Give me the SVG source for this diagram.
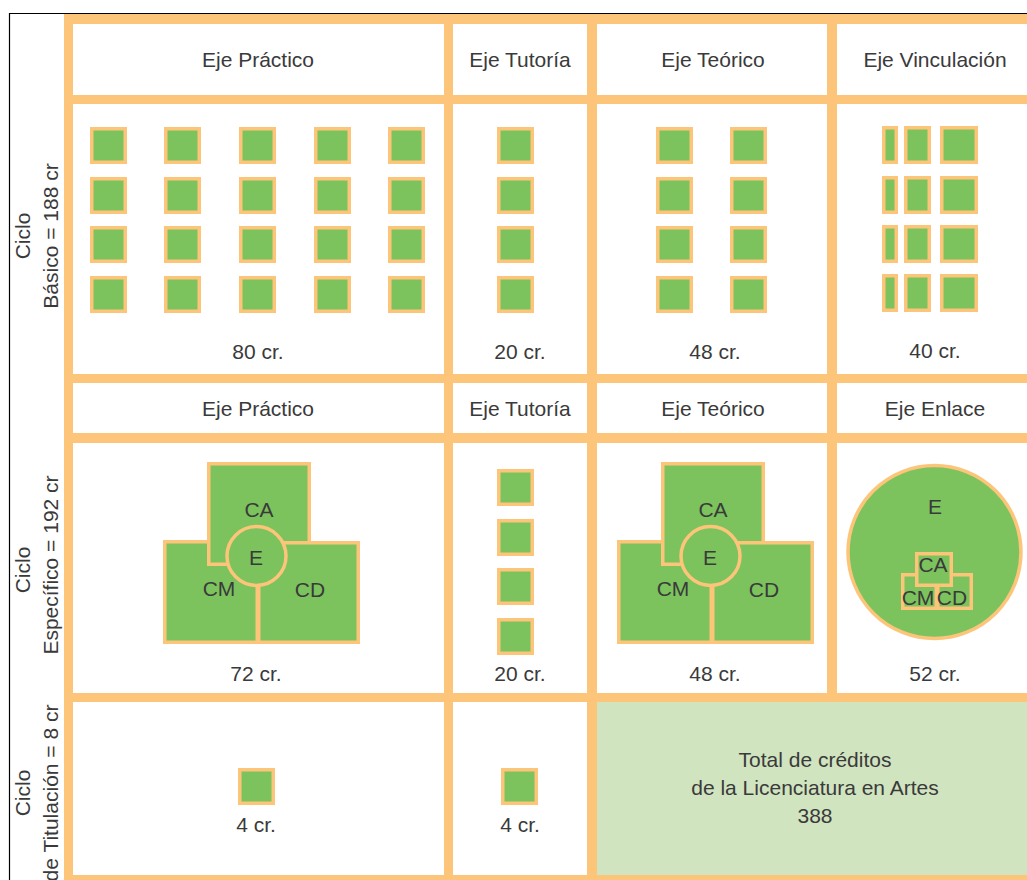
<svg xmlns="http://www.w3.org/2000/svg" width="1027" height="880" viewBox="0 0 1027 880">
<style>
.t{font-family:"Liberation Sans",Arial,sans-serif;font-size:21px;fill:#3a3a3a;text-anchor:middle}
.sq{fill:#7cc35d;stroke:#fdc57a;stroke-width:3.5}
.cell{fill:#ffffff}
</style>
<defs>
<rect id="s" class="sq" x="1.75" y="1.75" width="33.5" height="33.5"/>
</defs>
<rect x="0" y="0" width="1027" height="880" fill="#ffffff"/>
<path d="M9.5 880 V13.5 H1027" fill="none" stroke="#000" stroke-width="1.2"/>
<g id="grid">
<rect x="64" y="14" width="963" height="866" fill="#fdc57a"/>
<rect class="cell" x="73" y="24" width="371" height="71"/>
<rect class="cell" x="453" y="24" width="134" height="71"/>
<rect class="cell" x="597" y="24" width="230" height="71"/>
<rect class="cell" x="837" y="24" width="190" height="71"/>
<rect class="cell" x="73" y="104" width="371" height="270"/>
<rect class="cell" x="453" y="104" width="134" height="270"/>
<rect class="cell" x="597" y="104" width="230" height="270"/>
<rect class="cell" x="837" y="104" width="190" height="270"/>
<rect class="cell" x="73" y="383" width="371" height="50"/>
<rect class="cell" x="453" y="383" width="134" height="50"/>
<rect class="cell" x="597" y="383" width="230" height="50"/>
<rect class="cell" x="837" y="383" width="190" height="50"/>
<rect class="cell" x="73" y="443" width="371" height="250"/>
<rect class="cell" x="453" y="443" width="134" height="250"/>
<rect class="cell" x="597" y="443" width="230" height="250"/>
<rect class="cell" x="837" y="443" width="190" height="250"/>
<rect class="cell" x="73" y="702" width="371" height="173"/>
<rect class="cell" x="453" y="702" width="134" height="173"/>
</g>
<g id="cycle-labels">
<text class="t" transform="translate(30,236) rotate(-90)">Ciclo</text>
<text class="t" transform="translate(58,236) rotate(-90)">Básico = 188 cr</text>
<text class="t" transform="translate(30,570) rotate(-90)">Ciclo</text>
<text class="t" transform="translate(58,565) rotate(-90)">Específico = 192 cr</text>
<text class="t" transform="translate(30,793) rotate(-90)">Ciclo</text>
<text class="t" transform="translate(58,793) rotate(-90)">de Titulación = 8 cr</text>
</g>
<g id="headers-basico">
<text class="t" x="258" y="67">Eje Práctico</text>
<text class="t" x="520" y="67">Eje Tutoría</text>
<text class="t" x="713" y="67">Eje Teórico</text>
<text class="t" x="935" y="67">Eje Vinculación</text>
</g>
<g id="basico-practico">
<use href="#s" x="90" y="127"/><use href="#s" x="164" y="127"/><use href="#s" x="239" y="127"/><use href="#s" x="314" y="127"/><use href="#s" x="388" y="127"/>
<use href="#s" x="90" y="177"/><use href="#s" x="164" y="177"/><use href="#s" x="239" y="177"/><use href="#s" x="314" y="177"/><use href="#s" x="388" y="177"/>
<use href="#s" x="90" y="226"/><use href="#s" x="164" y="226"/><use href="#s" x="239" y="226"/><use href="#s" x="314" y="226"/><use href="#s" x="388" y="226"/>
<use href="#s" x="90" y="276"/><use href="#s" x="164" y="276"/><use href="#s" x="239" y="276"/><use href="#s" x="314" y="276"/><use href="#s" x="388" y="276"/>
<text class="t" x="258" y="359">80 cr.</text>
</g>
<g id="basico-tutoria">
<use href="#s" x="497" y="127"/><use href="#s" x="497" y="177"/><use href="#s" x="497" y="226"/><use href="#s" x="497" y="276"/>
<text class="t" x="520" y="359">20 cr.</text>
</g>
<g id="basico-teorico">
<use href="#s" x="656" y="127"/><use href="#s" x="730" y="127"/>
<use href="#s" x="656" y="177"/><use href="#s" x="730" y="177"/>
<use href="#s" x="656" y="226"/><use href="#s" x="730" y="226"/>
<use href="#s" x="656" y="276"/><use href="#s" x="730" y="276"/>
<text class="t" x="715" y="359">48 cr.</text>
</g>
<g id="basico-vinculacion">
<rect class="sq" x="883.75" y="127.75" width="12.5" height="34.5"/><rect class="sq" x="905.75" y="127.75" width="23.5" height="34.5"/><rect class="sq" x="941.75" y="127.75" width="34.5" height="34.5"/>
<rect class="sq" x="883.75" y="177.75" width="12.5" height="34.5"/><rect class="sq" x="905.75" y="177.75" width="23.5" height="34.5"/><rect class="sq" x="941.75" y="177.75" width="34.5" height="34.5"/>
<rect class="sq" x="883.75" y="226.75" width="12.5" height="34.5"/><rect class="sq" x="905.75" y="226.75" width="23.5" height="34.5"/><rect class="sq" x="941.75" y="226.75" width="34.5" height="34.5"/>
<rect class="sq" x="883.75" y="275.75" width="12.5" height="34.5"/><rect class="sq" x="905.75" y="275.75" width="23.5" height="34.5"/><rect class="sq" x="941.75" y="275.75" width="34.5" height="34.5"/>
<text class="t" x="935" y="358">40 cr.</text>
</g>
<g id="headers-especifico">
<text class="t" x="258" y="416">Eje Práctico</text>
<text class="t" x="520" y="416">Eje Tutoría</text>
<text class="t" x="713" y="416">Eje Teórico</text>
<text class="t" x="935" y="416">Eje Enlace</text>
</g>
<g id="especifico-practico">
<rect class="sq" x="164.75" y="541.75" width="92.5" height="100.5"/>
<rect class="sq" x="208.75" y="463.75" width="100.5" height="100.5"/>
<rect class="sq" x="258.75" y="542.75" width="99.5" height="99.5"/>
<circle class="sq" cx="256.5" cy="556" r="29.5"/>
<text class="t" x="259" y="517">CA</text>
<text class="t" x="256" y="565">E</text>
<text class="t" x="219" y="596">CM</text>
<text class="t" x="310" y="597">CD</text>
<text class="t" x="256" y="681">72 cr.</text>
</g>
<g id="especifico-tutoria">
<use href="#s" x="497" y="469"/><use href="#s" x="497" y="519"/><use href="#s" x="497" y="568"/><use href="#s" x="497" y="618"/>
<text class="t" x="520" y="681">20 cr.</text>
</g>
<g id="especifico-teorico">
<rect class="sq" x="618.75" y="541.75" width="92.5" height="100.5"/>
<rect class="sq" x="662.75" y="463.75" width="100.5" height="100.5"/>
<rect class="sq" x="712.75" y="542.75" width="99.5" height="99.5"/>
<circle class="sq" cx="710.5" cy="556" r="29.5"/>
<text class="t" x="713" y="517">CA</text>
<text class="t" x="710" y="565">E</text>
<text class="t" x="673" y="596">CM</text>
<text class="t" x="764" y="597">CD</text>
<text class="t" x="715" y="681">48 cr.</text>
</g>
<g id="especifico-enlace">
<circle class="sq" cx="934.5" cy="552" r="86.5"/>
<rect class="sq" x="902.75" y="574.75" width="33.5" height="33.5"/>
<rect class="sq" x="937.75" y="574.75" width="33.5" height="33.5"/>
<rect class="sq" x="916.75" y="553.75" width="34.5" height="31.5"/>
<text class="t" x="935" y="514">E</text>
<text class="t" x="933" y="572">CA</text>
<text class="t" x="918" y="605">CM</text>
<text class="t" x="952" y="605">CD</text>
<text class="t" x="935" y="681">52 cr.</text>
</g>
<g id="titulacion-practico">
<use href="#s" x="238" y="768"/>
<text class="t" x="256" y="832">4 cr.</text>
</g>
<g id="titulacion-tutoria">
<use href="#s" x="501" y="768"/>
<text class="t" x="520" y="832">4 cr.</text>
</g>
<g id="total">
<rect x="597" y="702" width="430" height="173" fill="#d1e4c0"/>
<text class="t" x="815" y="767">Total de créditos</text>
<text class="t" x="815" y="795">de la Licenciatura en Artes</text>
<text class="t" x="815" y="823">388</text>
</g>
</svg>
